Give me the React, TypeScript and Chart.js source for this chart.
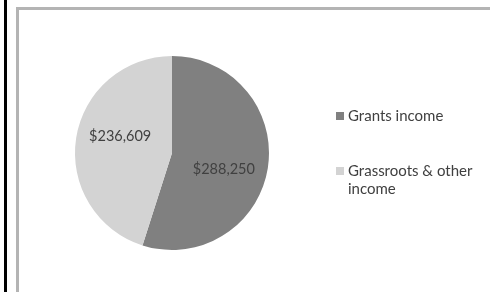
import React, { useEffect, useRef } from "react";
import { Chart, registerables } from "chart.js";

Chart.register(...registerables);

const categories = ["Grants income", "Grassroots & other income"];
const values = [288250, 236609];
const sliceColors = ["#808080", "#d3d3d3"];

const FONT = "Lato, 'Open Sans', sans-serif";

const fmt = (v: number) => "$" + v.toLocaleString("en-US");

const overlayPlugin = {
  id: "overlay",
  afterDraw(chart: any) {
    const ctx = chart.ctx as CanvasRenderingContext2D;
    const meta = chart.getDatasetMeta(0);
    ctx.save();
    // data labels
    ctx.font = `14.5px ${FONT}`;
    ctx.fillStyle = "#404040";
    ctx.textAlign = "center";
    ctx.textBaseline = "middle";
    meta.data.forEach((arc: any, i: number) => {
      const p = arc.getProps(["x", "y", "startAngle", "endAngle", "outerRadius"], true);
      const mid = (p.startAngle + p.endAngle) / 2 + 0.15;
      const r = p.outerRadius * 0.56;
      ctx.fillText(fmt(values[i]), p.x + Math.cos(mid) * r, p.y + Math.sin(mid) * r);
    });
    // legend
    const lx = 336;
    const starts = [116, 171];
    ctx.textAlign = "left";
    ctx.font = `15px ${FONT}`;
    categories.forEach((label, i) => {
      const y0 = starts[i];
      ctx.fillStyle = sliceColors[i];
      ctx.fillRect(lx, y0 - 4, 8, 8);
      ctx.fillStyle = "#404040";
      const words = label.split(" ");
      const lines: string[] = [];
      let cur = "";
      words.forEach((w) => {
        const t = cur ? cur + " " + w : w;
        if (ctx.measureText(t).width > 135 && cur) {
          lines.push(cur);
          cur = w;
        } else cur = t;
      });
      if (cur) lines.push(cur);
      lines.forEach((ln, j) => ctx.fillText(ln, lx + 12, y0 + j * 18));
    });
    ctx.restore();
  },
};

export default function App() {
  const ref = useRef<HTMLCanvasElement>(null);
  useEffect(() => {
    if (!ref.current) return;
    const chart = new Chart(ref.current, {
      type: "pie",
      data: {
        labels: categories,
        datasets: [
          {
            data: values,
            backgroundColor: sliceColors,
            borderWidth: 0,
          },
        ],
      },
      options: {
        responsive: false,
        animation: false,
        layout: { padding: { left: 75, right: 221, top: 56, bottom: 42 } },
        plugins: {
          legend: { display: false },
          tooltip: { enabled: false },
        },
      },
      plugins: [overlayPlugin],
    });
    return () => chart.destroy();
  }, []);

  return (
    <div
      style={{
        position: "fixed",
        left: 0,
        top: 0,
        width: 490,
        height: 292,
        background: "#ffffff",
        overflow: "hidden",
      }}
    >
      <div
        style={{
          position: "absolute",
          left: 4,
          top: 0,
          width: 3,
          height: 292,
          background: "#000000",
        }}
      />
      <div
        style={{
          position: "absolute",
          left: 16,
          top: 7,
          width: 474,
          height: 285,
          borderLeft: "3px solid #b4b4b4",
          borderTop: "3px solid #b4b4b4",
        }}
      />
      <canvas
        ref={ref}
        width={490}
        height={292}
        style={{ position: "absolute", left: 0, top: 0 }}
      />
    </div>
  );
}
